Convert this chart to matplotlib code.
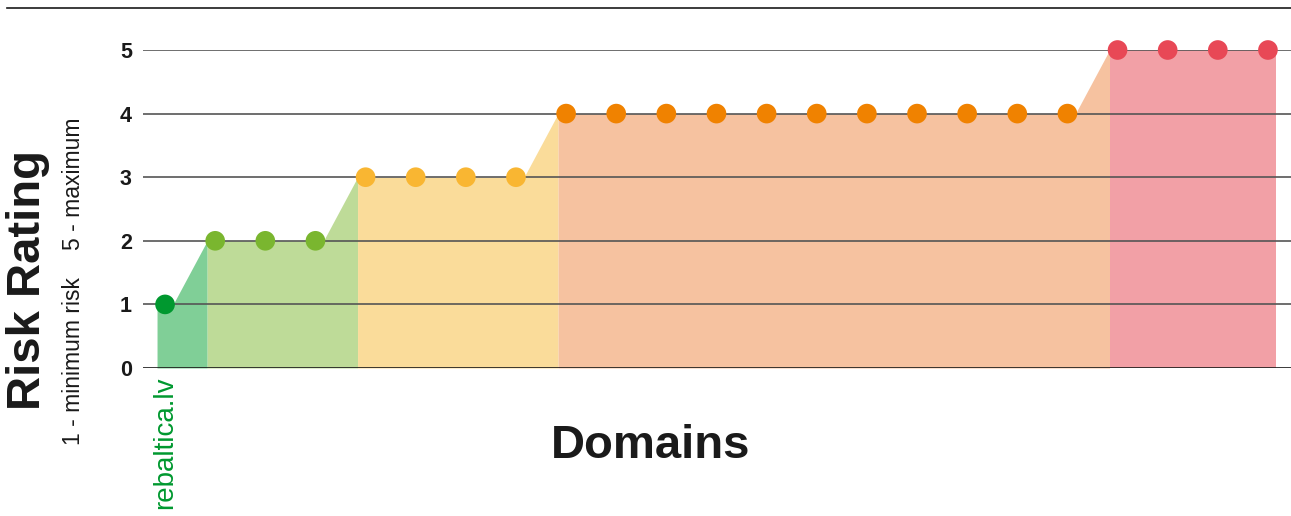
#Risk rating step chart for domains
import numpy as np
import matplotlib
matplotlib.use('Agg')
import matplotlib.pyplot as plt
from matplotlib.lines import Line2D

plt.rcParams['font.family'] = ['Liberation Sans', 'DejaVu Sans']

#one rating per domain, ordered from lowest to highest risk
ratings = [1, 2, 2, 2, 3, 3, 3, 3, 4, 4, 4, 4, 4, 4, 4, 4, 4, 4, 4, 5, 5, 5, 5]
domain_labels = ['rebaltica.lv'] + [''] * 22
y_ticks = [0, 1, 2, 3, 4, 5]

#dot colour and fill colour per rating
dot_colors = {1: '#00982f', 2: '#7ab62f', 3: '#f9b632', 4: '#f08200', 5: '#e84856'}
fill_colors = {1: '#80cf97', 2: '#bedb98', 3: '#fadc9a', 4: '#f6c2a0', 5: '#f2a0a6'}

n = len(ratings)
x = np.arange(n)
w = 0.16  # half width of the flat part under each dot

fig = plt.figure(figsize=(12.91, 5.16), dpi=100)
ax = fig.add_axes([143/1291, 148/516, 1148/1291, 318/516])

#profile: flat under each dot, straight slope between neighbours
px, py = [], []
for i, r in enumerate(ratings):
    px += [x[i] - w, x[i] + w]
    py += [r, r]
px = np.array(px)
py = np.array(py)

#split the profile into colour blocks, one per rating group
starts = [0] + [i for i in range(1, n) if ratings[i] != ratings[i-1]]
ends = starts[1:] + [n]
for s, e in zip(starts, ends):
    lo = 2*s
    hi = 2*e if e < n else 2*n - 1
    sx = px[lo:hi+1]
    sy = py[lo:hi+1]
    ax.fill_between(sx, 0, sy, color=fill_colors[ratings[s]], lw=0, zorder=1)

#grid lines over the fill
for t in y_ticks:
    ax.axhline(t, color='#1a1a1a' if t == 0 else '#555555', lw=1.2, zorder=2)

ax.scatter(x, ratings, s=200, c=[dot_colors[r] for r in ratings],
           zorder=3, clip_on=False, linewidths=0)

ax.set_xlim(-0.44, 22.46)
ax.set_ylim(0, 5)
for sp in ax.spines.values():
    sp.set_visible(False)
ax.set_yticks(y_ticks)
ax.set_yticklabels([str(t) for t in y_ticks], fontsize=15.5, fontweight='bold', color='#1a1a1a')
ax.tick_params(axis='y', length=0, pad=8)
ax.set_xticks(x)
ax.set_xticklabels(domain_labels, rotation=90, fontsize=20, color='#00982f')
ax.tick_params(axis='x', length=0, pad=6)

#titles
fig.text(28/1291, 1 - 280/516, 'Risk Rating', rotation=90, fontsize=34, fontweight='bold',
         ha='center', va='center', color='#1a1a1a')
fig.text(74/1291, 1 - 445/516, '1 - minimum risk', rotation=90, fontsize=16.5,
         ha='center', va='bottom', color='#1a1a1a')
fig.text(74/1291, 1 - 118/516, '5 - maximum', rotation=90, fontsize=16.5,
         ha='center', va='top', color='#1a1a1a')
fig.text(651/1291, 1 - 446/516, 'Domains', fontsize=34, fontweight='bold',
         ha='center', va='center', color='#1a1a1a')

#top rule
fig.add_artist(Line2D([7/1291, 1], [1 - 8/516, 1 - 8/516], color='#1a1a1a', lw=1.2))

fig.savefig('out.png', dpi=100)
